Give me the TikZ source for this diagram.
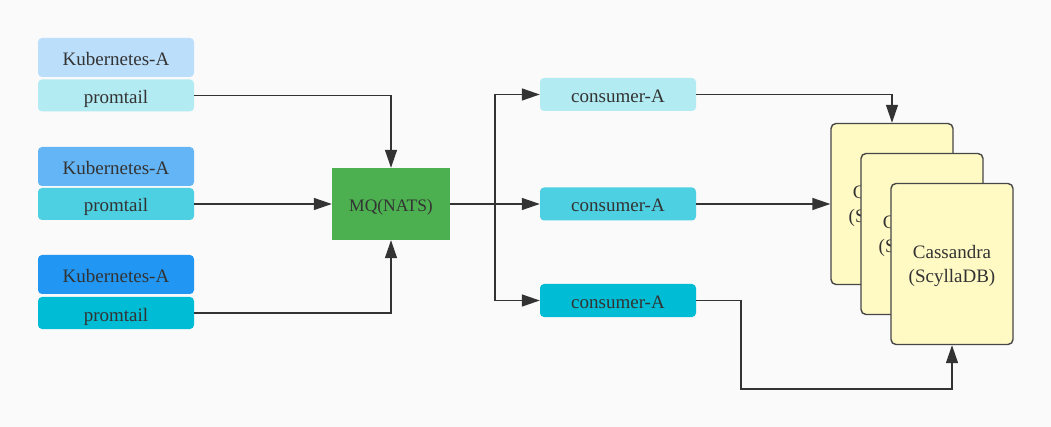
\documentclass[tikz,border=0pt]{standalone}
\usepackage{fontspec}
\setmainfont{Liberation Serif}
\usetikzlibrary{arrows.meta, positioning}

\definecolor{bgcol}{HTML}{FAFAFA}
\definecolor{kubeA}{HTML}{BBDEFB}
\definecolor{kubeB}{HTML}{64B5F6}
\definecolor{kubeC}{HTML}{2196F3}
\definecolor{promA}{HTML}{B2EBF2}
\definecolor{promB}{HTML}{4DD0E1}
\definecolor{promC}{HTML}{00BCD4}
\definecolor{mqgreen}{HTML}{4CAF50}
\definecolor{dbyellow}{HTML}{FFF9C4}
\definecolor{linecol}{HTML}{333333}

\begin{document}
\begin{tikzpicture}[x=1pt, y=-1pt]
    \tikzset{
        box/.style={
            rectangle,
            rounded corners=4pt,
            inner sep=0pt,
            minimum width=156pt,
            text height=16pt,
            text depth=0pt,
            text=linecol,
            font=\fontsize{19}{23}\selectfont
        },
        kube/.style={box, minimum height=39pt},
        prom/.style={box, minimum height=32pt},
        consumer/.style={box, minimum height=33pt},
        queue/.style={
            rectangle,
            fill=mqgreen,
            inner sep=0pt,
            minimum width=118pt,
            minimum height=72pt,
            text height=16pt,
            text depth=0pt,
            text=linecol,
            font=\fontsize{17.5}{21}\selectfont
        },
        db/.style={
            rectangle,
            rounded corners=5pt,
            draw=linecol!90,
            line width=1.4pt,
            fill=dbyellow,
            inner sep=0pt,
            minimum width=122pt,
            minimum height=161pt,
            align=center,
            text depth=0pt,
            text=linecol,
            font=\fontsize{19}{24.5}\selectfont
        },
        flow/.style={
            draw=linecol,
            line width=1.4pt,
            -{Triangle[length=18pt, width=12pt]}
        }
    }

    \fill[bgcol] (0,0) rectangle (1051,427);

    % sources
    \node[kube, fill=kubeA] (kube1) at (116,57.5) {Kubernetes-A};
    \node[prom, fill=promA] (prom1) at (116,95.5) {promtail};
    \node[kube, fill=kubeB] (kube2) at (116,166.5) {Kubernetes-A};
    \node[prom, fill=promB] (prom2) at (116,204) {promtail};
    \node[kube, fill=kubeC] (kube3) at (116,274.5) {Kubernetes-A};
    \node[prom, fill=promC] (prom3) at (116,313) {promtail};

    \node[queue] (mq) at (391,204) {MQ(NATS)};

    % consumers
    \node[consumer, fill=promA] (cons1) at (618,94.5) {consumer-A};
    \node[consumer, fill=promB] (cons2) at (618,204) {consumer-A};
    \node[consumer, fill=promC] (cons3) at (618,300.5) {consumer-A};

    % storage
    \node[db] (db1) at (892,204) {Cassandra\\(ScyllaDB)};
    \node[db] (db2) at (922,234) {Cassandra\\(ScyllaDB)};
    \node[db] (db3) at (952,264) {Cassandra\\(ScyllaDB)};

    \coordinate (split) at (495,204);
    \coordinate (bend) at (741,389);

    \draw[flow] (prom1.east) -| (mq.north);
    \draw[flow] (prom2.east) -- (mq.west);
    \draw[flow] (prom3.east) -| (mq.south);

    \draw[flow] (mq.east) -- (cons2.west);
    \draw[flow] (split) |- (cons1.west);
    \draw[flow] (split) |- (cons3.west);

    \draw[flow] (cons1.east) -| (db1.north);
    \draw[flow] (cons2.east) -- (db1.west);
    \draw[flow] (cons3.east) -| (bend) -| (db3.south);

\end{tikzpicture}
\end{document}
